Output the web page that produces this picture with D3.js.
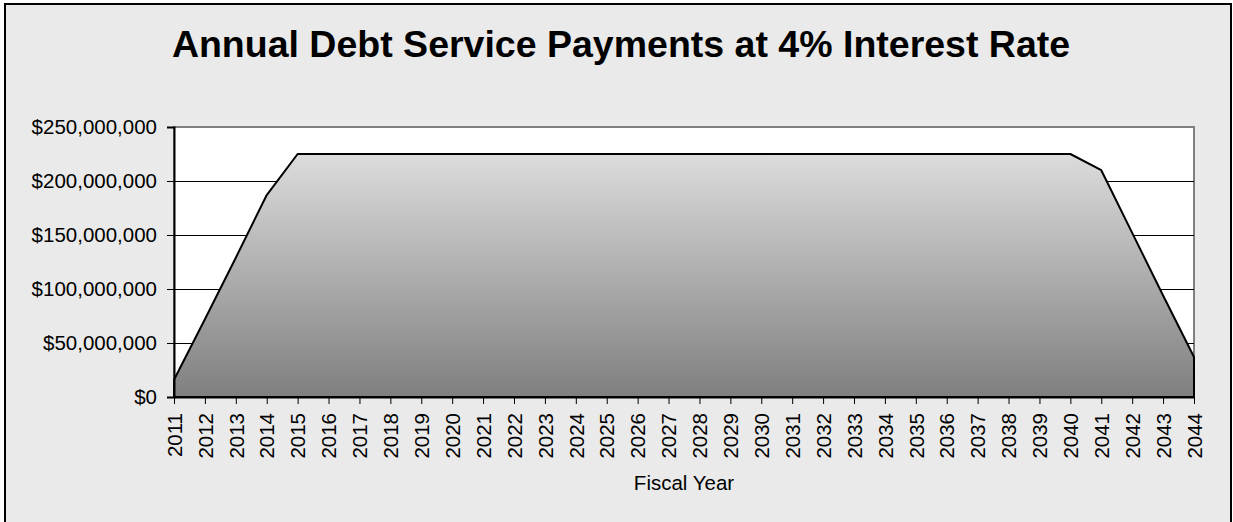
<!DOCTYPE html>
<html>
<head>
<meta charset="utf-8">
<title>Annual Debt Service Payments at 4% Interest Rate</title>
<style>
body { margin: 0; background: #fff; }
svg { display: block; font-family: "Liberation Sans", Arial, sans-serif; }
</style>
</head>
<body>
<div id="chart"></div>
<script src="https://d3js.org/d3.v7.min.js"></script>
<script>
// data
var years = d3.range(2011, 2045);
var payments = [
  16e6, 72e6, 129e6, 187e6, 225e6,
  225e6, 225e6, 225e6, 225e6, 225e6, 225e6, 225e6, 225e6, 225e6, 225e6,
  225e6, 225e6, 225e6, 225e6, 225e6, 225e6, 225e6, 225e6, 225e6, 225e6,
  225e6, 225e6, 225e6, 225e6, 225e6,
  210e6, 152e6, 94e6, 37e6
];
var yTicks = [0, 50e6, 100e6, 150e6, 200e6, 250e6];

var W = 1233, H = 522;
var plot = { left: 174, right: 1194, top: 127, bottom: 397 };

var svg = d3.select("#chart").append("svg")
  .attr("width", W)
  .attr("height", H);

// chart background + outer border
svg.append("rect")
  .attr("x", 5).attr("y", 4)
  .attr("width", 1226).attr("height", 530)
  .attr("fill", "#eaeaea")
  .attr("stroke", "#000")
  .attr("stroke-width", 2);

svg.append("text")
  .attr("x", 621)
  .attr("y", 57)
  .attr("text-anchor", "middle")
  .style("font-size", "37.5px")
  .style("font-weight", "bold")
  .text("Annual Debt Service Payments at 4% Interest Rate");

var x = d3.scalePoint().domain(years).range([plot.left, plot.right]);
var y = d3.scaleLinear().domain([0, 250e6]).range([plot.bottom, plot.top]);

// plot area
svg.append("rect")
  .attr("x", plot.left).attr("y", plot.top)
  .attr("width", plot.right - plot.left)
  .attr("height", plot.bottom - plot.top)
  .attr("fill", "#fff")
  .attr("stroke", "#808080")
  .attr("stroke-width", 2);

// gridlines
svg.append("g").selectAll("line")
  .data(yTicks.filter(function(d) { return d > 0 && d < 250e6; }))
  .enter().append("line")
  .attr("x1", plot.left).attr("x2", plot.right)
  .attr("y1", function(d) { return Math.round(y(d)) + 0.5; })
  .attr("y2", function(d) { return Math.round(y(d)) + 0.5; })
  .attr("stroke", "#000")
  .attr("stroke-width", 1);

// gradient for the area
var defs = svg.append("defs");
var grad = defs.append("linearGradient")
  .attr("id", "areaGrad")
  .attr("x1", 0).attr("y1", 0).attr("x2", 0).attr("y2", 1);
grad.append("stop").attr("offset", "0%").attr("stop-color", "#dcdcdc");
grad.append("stop").attr("offset", "100%").attr("stop-color", "#7f7f7f");

var data = years.map(function(yr, i) { return { year: yr, value: payments[i] }; });

var area = d3.area()
  .x(function(d) { return x(d.year); })
  .y0(y(0))
  .y1(function(d) { return y(d.value); });

svg.append("path")
  .datum(data)
  .attr("d", area)
  .attr("fill", "url(#areaGrad)")
  .attr("stroke", "#000")
  .attr("stroke-width", 2)
  .attr("stroke-linejoin", "round");

// y axis
var yAxis = svg.append("g")
  .attr("transform", "translate(" + plot.left + ",0)")
  .call(d3.axisLeft(y).tickValues(yTicks).tickSize(7).tickPadding(10)
    .tickFormat(function(d) { return "$" + d3.format(",")(d); }));
yAxis.select(".domain").attr("stroke", "#000").attr("stroke-width", 2);
yAxis.selectAll(".tick line").attr("stroke", "#000");
yAxis.selectAll("text")
  .attr("fill", "#000")
  .style("font-size", "20.5px")
  .style("font-family", "'Liberation Sans', Arial, sans-serif");

// x axis
var xAxis = svg.append("g")
  .attr("transform", "translate(0," + plot.bottom + ")")
  .call(d3.axisBottom(x).tickSize(7).tickSizeOuter(0));
xAxis.select(".domain").attr("stroke", "#000").attr("stroke-width", 2);
xAxis.selectAll(".tick line").attr("stroke", "#000");
xAxis.selectAll("text")
  .attr("fill", "#000")
  .attr("transform", "rotate(-90)")
  .attr("text-anchor", "end")
  .attr("x", -16)
  .attr("y", 0)
  .attr("dy", "0.35em")
  .style("font-size", "20.5px")
  .style("font-family", "'Liberation Sans', Arial, sans-serif");

svg.append("text")
  .attr("x", (plot.left + plot.right) / 2)
  .attr("y", 490)
  .attr("text-anchor", "middle")
  .style("font-size", "20.5px")
  .text("Fiscal Year");
</script>
</body>
</html>
